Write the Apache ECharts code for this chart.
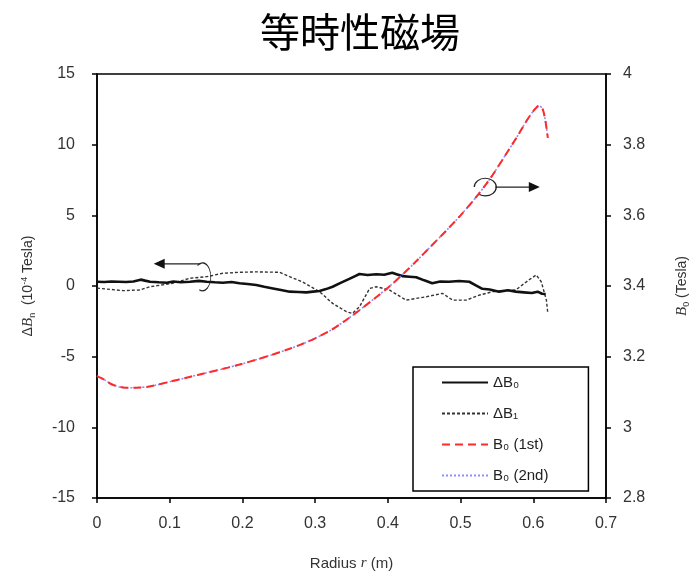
<!DOCTYPE html>
<html>
<head>
<meta charset="utf-8">
<script src="https://cdn.jsdelivr.net/npm/echarts@6/dist/echarts.min.js"></script>
<style>
  html, body { margin: 0; padding: 0; background: #fff; }
  #chart { width: 693px; height: 575px; }
</style>
</head>
<body>
<div id="chart"></div>
<script>
// Radius (m) and magnetic field of the isochronous field B0 (Tesla), right axis
const b0Radius = [0.000, 0.010, 0.020, 0.030, 0.040, 0.050, 0.060, 0.070, 0.080, 0.090,
  0.100, 0.120, 0.140, 0.160, 0.180, 0.200, 0.220, 0.240, 0.260, 0.280,
  0.300, 0.320, 0.340, 0.360, 0.380, 0.400, 0.420, 0.440, 0.460, 0.480,
  0.500, 0.520, 0.540, 0.560, 0.580, 0.590, 0.600, 0.608, 0.613, 0.616, 0.618, 0.620];
const b0First = [3.145, 3.135, 3.122, 3.115, 3.112, 3.112, 3.113, 3.115, 3.119, 3.124,
  3.129, 3.139, 3.149, 3.159, 3.169, 3.180, 3.192, 3.205, 3.219, 3.234,
  3.252, 3.273, 3.300, 3.330, 3.362, 3.395, 3.432, 3.472, 3.514, 3.556,
  3.600, 3.648, 3.702, 3.765, 3.830, 3.865, 3.895, 3.910, 3.900, 3.875, 3.850, 3.819];
const b0Second = [3.145, 3.135, 3.122, 3.115, 3.112, 3.112, 3.113, 3.115, 3.119, 3.124,
  3.129, 3.139, 3.149, 3.159, 3.169, 3.180, 3.192, 3.205, 3.219, 3.234,
  3.252, 3.273, 3.300, 3.330, 3.362, 3.395, 3.432, 3.472, 3.514, 3.556,
  3.600, 3.648, 3.702, 3.765, 3.830, 3.865, 3.895, 3.910, 3.900, 3.875, 3.850, 3.819];

// Field deviation ΔB0 (10^-4 Tesla), left axis
const db0Radius = [0.000, 0.010, 0.020, 0.030, 0.040, 0.050, 0.060, 0.066, 0.073, 0.085,
  0.096, 0.105, 0.115, 0.128, 0.140, 0.151, 0.162, 0.173, 0.185, 0.196,
  0.207, 0.219, 0.230, 0.242, 0.253, 0.265, 0.277, 0.288, 0.297, 0.306,
  0.315, 0.324, 0.335, 0.347, 0.355, 0.361, 0.372, 0.384, 0.395, 0.406,
  0.413, 0.420, 0.430, 0.439, 0.450, 0.461, 0.472, 0.484, 0.498, 0.512,
  0.521, 0.530, 0.540, 0.553, 0.565, 0.576, 0.587, 0.598, 0.606, 0.612, 0.617];
const db0Values = [0.30, 0.28, 0.32, 0.30, 0.28, 0.32, 0.45, 0.38, 0.30, 0.26,
  0.23, 0.32, 0.27, 0.30, 0.36, 0.30, 0.26, 0.23, 0.28, 0.20,
  0.14, 0.07, -0.05, -0.17, -0.28, -0.40, -0.42, -0.45, -0.40, -0.35,
  -0.22, -0.05, 0.22, 0.50, 0.70, 0.85, 0.78, 0.83, 0.80, 0.94,
  0.82, 0.70, 0.66, 0.62, 0.40, 0.20, 0.32, 0.30, 0.35, 0.30,
  0.05, -0.20, -0.25, -0.40, -0.30, -0.40, -0.45, -0.50, -0.40, -0.55, -0.57];

// Field deviation ΔB1 (10^-4 Tesla), left axis
const db1Radius = [0.000, 0.004, 0.036, 0.059, 0.073, 0.104, 0.128, 0.151, 0.173, 0.196,
  0.219, 0.251, 0.265, 0.282, 0.306, 0.324, 0.343, 0.351, 0.361, 0.375,
  0.384, 0.402, 0.425, 0.453, 0.475, 0.489, 0.508, 0.526, 0.544, 0.576,
  0.594, 0.604, 0.611, 0.618, 0.620];
const db1Values = [-0.15, -0.17, -0.33, -0.28, -0.05, 0.19, 0.55, 0.66, 0.90, 0.97,
  1.00, 0.97, 0.66, 0.30, -0.40, -1.23, -1.82, -1.94, -1.47, -0.17,
  -0.05, -0.28, -1.00, -0.76, -0.52, -1.00, -1.00, -0.64, -0.40, -0.28,
  0.43, 0.78, 0.30, -1.00, -1.94];

// Axis ticks
const xTicks = [0, 0.1, 0.2, 0.3, 0.4, 0.5, 0.6, 0.7];
const leftTicks = [-15, -10, -5, 0, 5, 10, 15];
const rightTicks = [2.8, 3.0, 3.2, 3.4, 3.6, 3.8, 4.0];

const seriesNames = ['ΔB₀', 'ΔB₁', 'B₀ (1st)', 'B₀ (2nd)'];

const pairs = (xs, ys) => xs.map((x, i) => [x, ys[i]]);

const axisFont = 'Liberation Sans, Arial, sans-serif';
const labelColor = '#333';

const chart = echarts.init(document.getElementById('chart'), null, { renderer: 'canvas' });

const option = {
  backgroundColor: '#fff',
  animation: false,
  title: {
    text: '等時性磁場',
    left: 355,
    top: 7,
    textAlign: 'center',
    textStyle: {
      fontFamily: 'Noto Sans CJK JP',
      fontSize: 40,
      fontWeight: 'normal',
      color: '#000'
    }
  },
  grid: {
    left: 97, right: 87, top: 74, bottom: 77,
    containLabel: false,
    outerBoundsMode: 'none',
    show: true,
    borderColor: '#000',
    borderWidth: 1.5,
    backgroundColor: 'transparent'
  },
  legend: {
    orient: 'vertical',
    left: 413,
    top: 367,
    data: seriesNames,
    itemWidth: 46,
    itemHeight: 14,
    itemGap: 16,
    padding: [8, 40, 8, 28],
    borderColor: '#000',
    borderWidth: 1.5,
    backgroundColor: '#fff',
    itemStyle: { opacity: 0 },
    textStyle: { fontFamily: axisFont, fontSize: 15, color: '#222' }
  },
  xAxis: {
    type: 'value',
    min: 0, max: 0.7, interval: 0.1,
    name: 'Radius {i|r} (m)',
    nameLocation: 'middle',
    nameGap: 58,
    nameTextStyle: {
      fontFamily: axisFont, fontSize: 15, color: labelColor,
      rich: { i: { fontFamily: 'Liberation Serif', fontStyle: 'italic', fontSize: 15, color: labelColor } }
    },
    axisLine: { onZero: false, lineStyle: { color: '#000', width: 1.5 } },
    axisTick: { inside: false, length: 5, lineStyle: { color: '#000', width: 1.5 } },
    axisLabel: {
      fontFamily: axisFont, fontSize: 16, color: labelColor, margin: 18,
      formatter: v => String(xTicks.find(t => Math.abs(t - v) < 1e-6) ?? v)
    },
    splitLine: { show: false }
  },
  yAxis: [
    {
      type: 'value',
      min: -15, max: 15, interval: 5,
      position: 'left',
      name: 'Δ{ib|B}{sub|n}  (10{sup|-4} Tesla)',
      nameLocation: 'middle',
      nameGap: 60,
      nameRotate: 90,
      nameTextStyle: {
        fontFamily: axisFont, fontSize: 14, color: labelColor,
        rich: {
          ib: { fontFamily: 'Liberation Serif', fontStyle: 'italic', fontSize: 15, color: labelColor },
          sub: { fontSize: 9, color: labelColor, padding: [8, 0, 0, 0] },
          sup: { fontSize: 9, color: labelColor, padding: [0, 0, 8, 0] }
        }
      },
      axisLine: { show: true, onZero: false, lineStyle: { color: '#000', width: 1.5 } },
      axisTick: { show: true, inside: false, length: 5, lineStyle: { color: '#000', width: 1.5 } },
      axisLabel: {
        fontFamily: axisFont, fontSize: 16, color: labelColor, margin: 22,
        formatter: v => String(leftTicks.find(t => Math.abs(t - v) < 1e-6) ?? v)
      },
      splitLine: { show: false }
    },
    {
      type: 'value',
      min: 2.8, max: 4, interval: 0.2,
      position: 'right',
      name: '{ib|B}{sub|0} (Tesla)',
      nameLocation: 'middle',
      nameGap: 68,
      nameRotate: 90,
      nameTextStyle: {
        fontFamily: axisFont, fontSize: 14, color: labelColor,
        rich: {
          ib: { fontFamily: 'Liberation Serif', fontStyle: 'italic', fontSize: 15, color: labelColor },
          sub: { fontSize: 9, color: labelColor, padding: [8, 0, 0, 0] }
        }
      },
      axisLine: { show: true, onZero: false, lineStyle: { color: '#000', width: 1.5 } },
      axisTick: { show: true, inside: false, length: 5, lineStyle: { color: '#000', width: 1.5 } },
      axisLabel: {
        fontFamily: axisFont, fontSize: 16, color: labelColor, margin: 17,
        formatter: v => {
          const t = rightTicks.find(t => Math.abs(t - v) < 1e-6);
          return String(+((t ?? v).toFixed(1)));
        }
      },
      splitLine: { show: false }
    }
  ],
  series: [
    {
      name: seriesNames[0],
      type: 'line',
      yAxisIndex: 0,
      data: pairs(db0Radius, db0Values),
      symbol: 'none',
      lineStyle: { color: '#111', width: 2.6, type: 'solid' },
      itemStyle: { color: '#111' },
      z: 4
    },
    {
      name: seriesNames[1],
      type: 'line',
      yAxisIndex: 0,
      data: pairs(db1Radius, db1Values),
      symbol: 'none',
      lineStyle: { color: '#333', width: 1.4, type: [3, 2] },
      itemStyle: { color: '#333' },
      z: 3
    },
    {
      name: seriesNames[2],
      type: 'line',
      yAxisIndex: 1,
      data: pairs(b0Radius, b0First),
      symbol: 'none',
      smooth: 0.3,
      lineStyle: { color: '#ff2a2a', width: 2, type: [8, 5] },
      itemStyle: { color: '#ff2a2a' },
      z: 5
    },
    {
      name: seriesNames[3],
      type: 'line',
      yAxisIndex: 1,
      data: pairs(b0Radius, b0Second),
      symbol: 'none',
      smooth: 0.3,
      lineStyle: { color: '#8c8cff', width: 1.6, type: [2, 2] },
      itemStyle: { color: '#8c8cff' },
      z: 4
    }
  ]
};

chart.setOption(option);

// Arrows showing which axis each group of curves belongs to
const toPx = (axis, pt) => chart.convertToPixel({ xAxisIndex: 0, yAxisIndex: axis }, pt);
const leftAnchor = toPx(0, [0.145, 0.65]);      // centre of the loop around the ΔB curves
const leftTip = toPx(0, [0.078, 1.55]);
const rightAnchor = toPx(1, [0.534, 3.68]);     // centre of the loop around the B0 curve
const rightTip = toPx(1, [0.609, 3.68]);

const stroke = { stroke: '#222', lineWidth: 1.3, fill: null };
const leftTopY = leftAnchor[1] - 14;

chart.setOption({
  graphic: [
    {
      type: 'arc',
      x: leftAnchor[0], y: leftAnchor[1],
      scaleX: 0.6,
      shape: { cx: 0, cy: 0, r: 14, startAngle: Math.PI * 1.3, endAngle: Math.PI * 0.62, clockwise: true },
      style: stroke, z: 10
    },
    {
      type: 'line',
      shape: { x1: leftAnchor[0] - 2, y1: leftTopY + 1, x2: leftTip[0] + 9, y2: leftTopY + 1 },
      style: stroke, z: 10
    },
    {
      type: 'polygon',
      shape: { points: [[leftTip[0], leftTopY + 1], [leftTip[0] + 11, leftTopY - 4], [leftTip[0] + 11, leftTopY + 6]] },
      style: { fill: '#111' }, z: 10
    },
    {
      type: 'arc',
      x: rightAnchor[0], y: rightAnchor[1],
      scaleY: 0.8,
      shape: { cx: 0, cy: 0, r: 11, startAngle: Math.PI, endAngle: Math.PI * 0.68, clockwise: true },
      style: stroke, z: 10
    },
    {
      type: 'line',
      shape: { x1: rightAnchor[0] + 10, y1: rightAnchor[1], x2: rightTip[0] - 9, y2: rightAnchor[1] },
      style: stroke, z: 10
    },
    {
      type: 'polygon',
      shape: { points: [[rightTip[0], rightAnchor[1]], [rightTip[0] - 11, rightAnchor[1] - 5], [rightTip[0] - 11, rightAnchor[1] + 5]] },
      style: { fill: '#111' }, z: 10
    }
  ]
});
</script>
</body>
</html>
